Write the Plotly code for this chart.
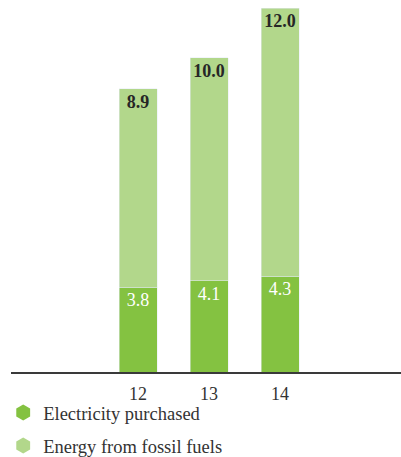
import plotly.graph_objects as go

years = [12, 13, 14]
tick_labels = ["12", "13", "14"]
electricity = [3.8, 4.1, 4.3]
fossil = [8.9, 10.0, 12.0]

DARK = "#84c241"
LIGHT = "#b2d78b"
FONT = "Liberation Serif, Times New Roman, serif"

fig = go.Figure()
fig.add_trace(go.Bar(
    x=years, y=electricity, marker_color=DARK, width=0.535,
    text=[f"{v:.1f}" for v in electricity], textposition="inside",
    insidetextanchor="end", constraintext="none",
    textfont=dict(family=FONT, size=18, color="white"),
    showlegend=False, hoverinfo="skip"))
fig.add_trace(go.Bar(
    x=years, y=fossil, marker_color=LIGHT, width=0.535,
    text=[f"<b>{v:.1f}</b>" for v in fossil], textposition="inside",
    insidetextanchor="end", constraintext="none",
    textfont=dict(family=FONT, size=18, color="#262626"),
    showlegend=False, hoverinfo="skip"))

# legend entries with hexagon markers
fig.add_trace(go.Scatter(x=[None], y=[None], mode="markers", name="Electricity purchased",
                         marker=dict(symbol="hexagon", size=20, color=DARK), legend="legend"))
fig.add_trace(go.Scatter(x=[None], y=[None], mode="markers", name="Energy from fossil fuels",
                         marker=dict(symbol="hexagon", size=20, color=LIGHT), legend="legend2"))

fig.update_layout(
    width=401, height=480,
    margin=dict(l=11, r=0, t=0, b=108),
    barmode="stack",
    plot_bgcolor="white", paper_bgcolor="white",
    font=dict(family=FONT, size=17, color="#333333"),
    xaxis=dict(range=[10.211, 15.704], tickvals=years, ticktext=tick_labels,
               showgrid=False, zeroline=False, showline=True, linecolor="#3a3a3a",
               linewidth=2, ticks="outside", ticklen=4, tickcolor="rgba(0,0,0,0)",
               tickfont=dict(family=FONT, size=18, color="#333333")),
    yaxis=dict(range=[0, 16.68], visible=False, showgrid=False, zeroline=False),
    legend=dict(x=-0.02, xanchor="left", y=-0.110, yanchor="middle",
                font=dict(family=FONT, size=18.5, color="#333333"), bgcolor="rgba(0,0,0,0)"),
    legend2=dict(x=-0.02, xanchor="left", y=-0.199, yanchor="middle",
                 font=dict(family=FONT, size=18.5, color="#333333"), bgcolor="rgba(0,0,0,0)"),
)

fig.write_html("out.html", config={"displayModeBar": False},
               post_script="document.body.style.margin='0';document.body.style.overflow='hidden';")
